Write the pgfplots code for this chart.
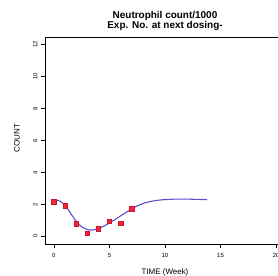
\documentclass[border=0pt]{standalone}
\usepackage{pgfplots}
\pgfplotsset{compat=1.18}
\usepackage{fontspec}
\setmainfont{Liberation Sans}
\definecolor{curveblue}{RGB}{90,80,210}
\definecolor{ptred}{RGB}{240,40,60}
\definecolor{ptedge}{RGB}{200,20,45}
\begin{document}
\begin{tikzpicture}[x=1bp,y=1bp]
\useasboundingbox (0,0) rectangle (278,276);
\clip (0,0) rectangle (278,276);
\begin{axis}[
  at={(45bp,32bp)}, anchor=south west,
  scale only axis, width=240bp, height=207bp,
  xmin=-0.8, xmax=20.8, ymin=-0.48, ymax=12.48,
  xtick={0,5,10,15,20}, ytick={0,2,4,6,8,10,12},
  tick align=outside, xtick pos=bottom, ytick pos=left,
  major tick length=4bp,
  tick style={black, line width=0.6pt},
  axis line style={line width=0.8pt},
  /pgf/number format/assume math mode=true,
  ticklabel style={font=\fontsize{6}{7}\selectfont},
  yticklabel style={rotate=90, anchor=south, xshift=0pt},
  xticklabel style={yshift=-2bp},
  clip=false,
]
\addplot[curveblue, line width=1.1pt, smooth] coordinates {
(0,2.30) (0.5,2.22) (1,1.95) (1.5,1.45) (2,0.95) (2.5,0.6) (3,0.42) (3.5,0.40)
(4,0.48) (4.5,0.64) (5,0.84) (5.5,1.05) (6,1.28) (6.5,1.5) (7,1.72) (7.5,1.9)
(8,2.05) (8.5,2.15) (9,2.22) (9.5,2.27) (10,2.30) (11,2.33) (12,2.33) (13,2.31) (13.8,2.30)
};
\addplot[only marks, mark=square*, mark size=2.2bp, mark options={fill=ptred, draw=ptedge, line width=0.4pt}] coordinates {
(0,2.16) (1,1.92) (2,0.80) (3,0.20) (4,0.48) (5,0.95) (6,0.82) (7,1.72)
};
\end{axis}
\node[inner sep=0pt, font=\bfseries\fontsize{10}{12}\selectfont] at (165,260.5) {Neutrophil count/1000};
\node[inner sep=0pt, font=\bfseries\fontsize{10}{12}\selectfont] at (165,250) {Exp. No. at next dosing-};
\node[font=\fontsize{8}{9}\selectfont] at (165,4) {TIME (Week)};
\node[font=\fontsize{8}{9}\selectfont, rotate=90] at (17,138) {COUNT};
\end{tikzpicture}
\end{document}
